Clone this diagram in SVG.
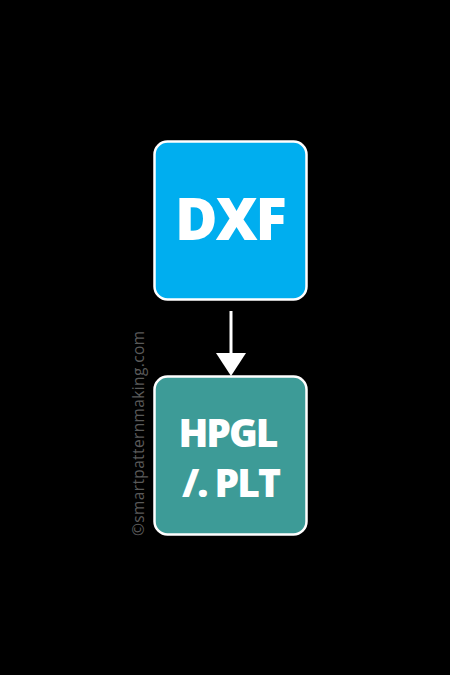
<svg xmlns="http://www.w3.org/2000/svg" width="450" height="675" viewBox="0 0 450 675">
<style>
.box{stroke:#fff;stroke-width:2.5}
.lbl{fill:#fff;font-family:"Open Sans","Liberation Sans",sans-serif;font-weight:800;text-anchor:middle}
.wm{fill:#5a5a5a;font-family:"Open Sans","Liberation Sans",sans-serif;font-size:15.5px}
</style>
<rect width="450" height="675" fill="#000"/>
<g id="dxf">
<rect class="box" x="154.5" y="141.5" width="152" height="158" rx="13" fill="#00AEEF"/>
<text class="lbl" x="230" y="240" font-size="58" letter-spacing="-2">DXF</text>
</g>
<g id="hpgl">
<rect class="box" x="154.5" y="376.5" width="152" height="158" rx="13" fill="#3D9B97"/>
<text class="lbl" x="227.5" y="447" font-size="39" letter-spacing="-2">HPGL</text>
<text class="lbl" x="230.5" y="497" font-size="39" letter-spacing="-2">/. PLT</text>
</g>
<g id="connectors">
<line x1="231" y1="311" x2="231" y2="355" stroke="#fff" stroke-width="3"/>
<path d="M216,353 L246,353 L231,376 Z" fill="#fff"/>
</g>
<text class="wm" transform="translate(144,536) rotate(-90)" textLength="205">©smartpatternmaking.com</text>
</svg>
